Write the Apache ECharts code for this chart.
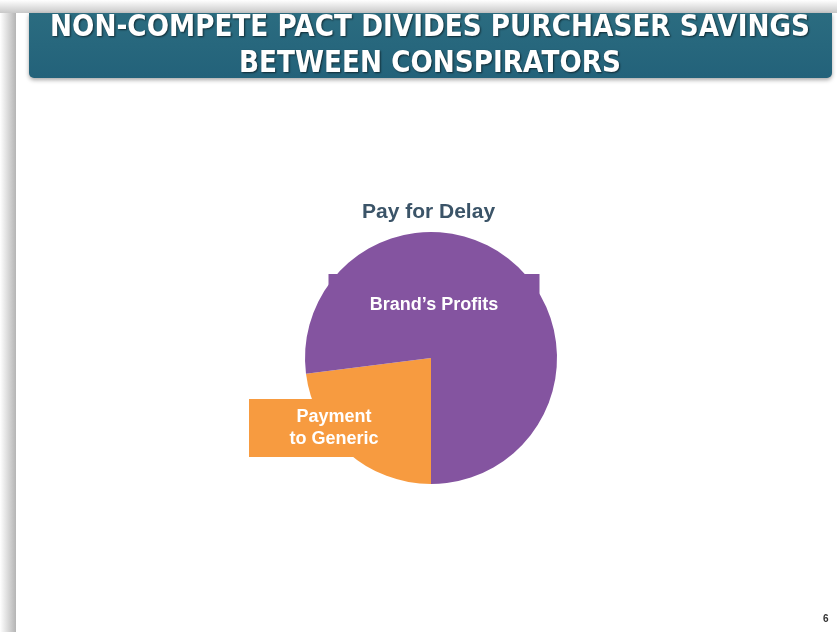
<!DOCTYPE html>
<html>
<head>
<meta charset="utf-8">
<script src="https://cdn.jsdelivr.net/npm/echarts@6/dist/echarts.min.js"></script>
<style>
  html, body { margin: 0; padding: 0; background: #fff; }
  #chart { width: 837px; height: 632px; }
</style>
</head>
<body>
<div id="chart"></div>
<script>
const titleLines = ["NON-COMPETE PACT DIVIDES PURCHASER SAVINGS", "BETWEEN CONSPIRATORS"];
const chartTitle = "Pay for Delay";
const sliceNames = ["Payment\nto Generic", "Brand\u2019s Profits"];
const sliceValues = [23, 77];
const sliceColors = ["#f79b40", "#8454a0"];
const pageNumber = "6";

const headFont = "bold 30px 'DejaVu Sans'";
// squeeze the banner text to the condensed width of the slide font
const ctx = document.createElement("canvas").getContext("2d");
ctx.font = headFont;
const headScale = 760 / ctx.measureText(titleLines[0]).width;

const chart = echarts.init(document.getElementById("chart"));

const option = {
  animation: false,
  backgroundColor: "#ffffff",
  title: {
    text: chartTitle,
    left: 357,
    top: 197,
    textStyle: { color: "#3b5468", fontSize: 21, fontWeight: "bold", fontFamily: "Liberation Sans" }
  },
  graphic: [
    // slide edge shadow
    {
      type: "rect", left: 0, top: 0, z: 0,
      shape: { width: 16, height: 632 },
      style: {
        fill: new echarts.graphic.LinearGradient(0, 0, 1, 0, [
          { offset: 0, color: "#ffffff" }, { offset: 1, color: "#b4b4b4" }
        ])
      }
    },
    {
      type: "rect", left: 0, top: 0, z: 0,
      shape: { width: 837, height: 13 },
      style: {
        fill: new echarts.graphic.LinearGradient(0, 0, 0, 1, [
          { offset: 0, color: "#ffffff" }, { offset: 1, color: "#c8c8c8" }
        ])
      }
    },
    {
      type: "rect", left: 16, top: 13, z: 1,
      shape: { width: 821, height: 619 },
      style: { fill: "#ffffff" }
    },
    // header banner
    {
      type: "rect", left: 29, top: 13, z: 2,
      shape: { width: 803, height: 65, r: [0, 0, 5, 5] },
      style: {
        fill: new echarts.graphic.LinearGradient(0, 0, 0, 1, [
          { offset: 0, color: "#2b6c80" }, { offset: 1, color: "#23627a" }
        ]),
        shadowBlur: 4, shadowColor: "rgba(0,0,0,0.35)", shadowOffsetY: 2
      }
    },
    {
      type: "text", z: 3,
      x: 430, y: 10,
      scaleX: headScale,
      style: {
        text: titleLines.join("\n"),
        align: "center",
        fill: "#ffffff",
        font: headFont,
        lineHeight: 36,
        textShadowBlur: 2, textShadowColor: "rgba(0,0,0,0.6)", textShadowOffsetX: 1, textShadowOffsetY: 1
      }
    },
    {
      type: "text", left: 823, top: 614, z: 3,
      style: { text: pageNumber, fill: "#333333", font: "bold 10px 'Liberation Sans'" }
    }
  ],
  series: [
    {
      type: "pie",
      center: [431, 358],
      radius: [0, 126],
      startAngle: 270,
      clockwise: true,
      silent: true,
      label: {
        show: true,
        position: "inside",
        color: "#ffffff",
        fontFamily: "Liberation Sans",
        fontWeight: "bold",
        fontSize: 18,
        lineHeight: 22,
        align: "center",
        verticalAlign: "middle"
      },
      labelLine: { show: false },
      labelLayout: function (p) {
        if (p.dataIndex === 0) return { x: 334, y: 428 };
        return { x: 434, y: 305 };
      },
      data: sliceNames.map((n, i) => ({
        name: n,
        value: sliceValues[i],
        itemStyle: { color: sliceColors[i] },
        label: i === 0
          ? { backgroundColor: sliceColors[i], width: 142, height: 44, padding: [7, 14] }
          : { backgroundColor: sliceColors[i], width: 183, height: 22, padding: [20, 14] }
      })),
      emphasis: { disabled: true }
    }
  ]
};

chart.setOption(option);
window.addEventListener("resize", () => chart.resize());
</script>
</body>
</html>
